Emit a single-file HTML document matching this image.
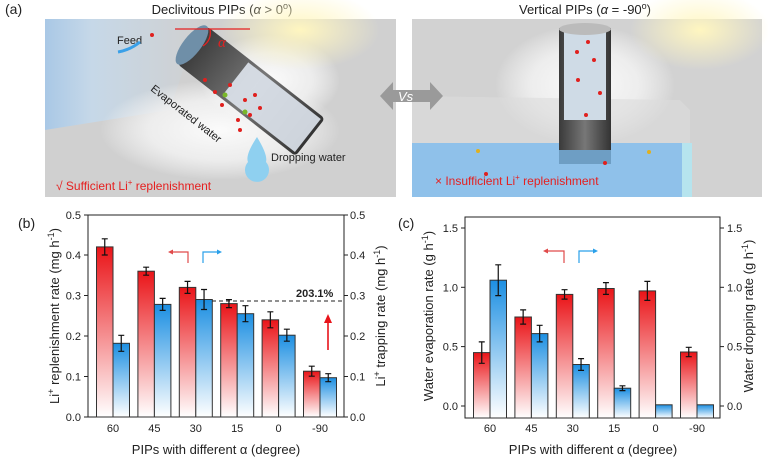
<!DOCTYPE html>
<html><head><meta charset="utf-8"><style>
html,body{margin:0;padding:0;background:#fff;}
svg{display:block;font-family:"Liberation Sans",Arial,sans-serif;}
</style></head><body>
<svg width="768" height="464" viewBox="0 0 768 464" xmlns="http://www.w3.org/2000/svg">
<defs>
<linearGradient id="rg" x1="0" y1="0" x2="0" y2="1"><stop offset="0" stop-color="#ea1418"/><stop offset="1" stop-color="#fff"/></linearGradient>
<linearGradient id="bg" x1="0" y1="0" x2="0" y2="1"><stop offset="0" stop-color="#1c8fe2"/><stop offset="1" stop-color="#fff"/></linearGradient>
<linearGradient id="lbg" x1="0" y1="0" x2="1" y2="0"><stop offset="0" stop-color="#a9c8e6"/><stop offset="0.3" stop-color="#c6d8e8"/><stop offset="1" stop-color="#d0d0d0"/></linearGradient>
<radialGradient id="sun" cx="0.5" cy="0.5" r="0.5"><stop offset="0" stop-color="#fff6c0"/><stop offset="1" stop-color="#fff6c0" stop-opacity="0"/></radialGradient>
<radialGradient id="mist" cx="0.5" cy="0.5" r="0.5"><stop offset="0" stop-color="#fbfbfb"/><stop offset="0.6" stop-color="#f4f4f4" stop-opacity="0.8"/><stop offset="1" stop-color="#fafafa" stop-opacity="0"/></radialGradient>
<linearGradient id="cyl" x1="0" y1="0" x2="1" y2="0"><stop offset="0" stop-color="#3a3a3a"/><stop offset="0.5" stop-color="#777"/><stop offset="1" stop-color="#333"/></linearGradient>
</defs>

<text x="5" y="14" font-size="14" fill="#222">(a)</text>
<text x="222" y="14" font-size="13" fill="#222" text-anchor="middle">Declivitous PIPs (<tspan font-style="italic">α</tspan> &gt; 0<tspan font-size="9" dy="-5">o</tspan><tspan dy="5">)</tspan></text>
<text x="585" y="14" font-size="13" fill="#222" text-anchor="middle">Vertical PIPs (<tspan font-style="italic">α</tspan> = -90<tspan font-size="9" dy="-5">o</tspan><tspan dy="5">)</tspan></text>

<rect x="45" y="19" width="351" height="178" fill="#d0d0d0"/>
<polygon points="45,19 200,19 170,110 45,130" fill="url(#lbg)"/>
<ellipse cx="220" cy="130" rx="120" ry="50" fill="url(#mist)"/>
<ellipse cx="270" cy="80" rx="70" ry="45" fill="url(#mist)"/>
<ellipse cx="300" cy="30" rx="80" ry="40" fill="url(#sun)"/>
<g transform="translate(192,45) rotate(38)">
<rect x="0" y="-24" width="150" height="48" fill="url(#cyl)" rx="4"/>
<rect x="55" y="-21" width="92" height="42" fill="#dfe6ee" opacity="0.9"/>
<ellipse cx="0" cy="0" rx="9" ry="24" fill="#6f8fa8"/>
</g>
<line x1="175" y1="29" x2="250" y2="29" stroke="#e52020" stroke-width="1.3"/>
<path d="M210,29 Q212,40 203,46" fill="none" stroke="#e52020" stroke-width="1.3"/>
<text x="218" y="47" font-size="15" fill="#e52020" font-style="italic" font-family="Liberation Serif,serif">α</text>
<text x="117" y="44" font-size="11" fill="#222">Feed</text>
<path d="M118,52 Q130,50 140,42" fill="none" stroke="#3aa0e8" stroke-width="3"/>
<text x="0" y="0" font-size="11" fill="#222" transform="translate(150,90) rotate(38)">Evaporated water</text>
<path d="M257,137 Q245,155 248,162 A12,12 0 1 0 266,162 Q268,155 257,137Z" fill="#8fd0f0"/>
<text x="271" y="161" font-size="11" fill="#222">Dropping water</text>
<text x="56" y="190" font-size="12" fill="#e52020">√ Sufficient Li<tspan font-size="8" dy="-5">+</tspan><tspan dy="5"> replenishment</tspan></text>
<g fill="#e0201e"><circle cx="205" cy="80" r="2"/><circle cx="230" cy="85" r="2"/><circle cx="245" cy="100" r="2"/><circle cx="250" cy="115" r="2"/><circle cx="222" cy="105" r="2"/><circle cx="260" cy="108" r="2"/><circle cx="238" cy="120" r="2"/><circle cx="152" cy="35" r="2"/><circle cx="215" cy="92" r="2"/><circle cx="255" cy="95" r="2"/><circle cx="240" cy="130" r="2"/></g>
<g fill="#7ab82a"><circle cx="225" cy="95" r="2.5"/><circle cx="245" cy="112" r="2.5"/></g>

<rect x="412" y="19" width="350" height="178" fill="#d2d2d2"/>
<ellipse cx="585" cy="85" rx="90" ry="60" fill="url(#mist)"/>
<ellipse cx="700" cy="30" rx="70" ry="40" fill="url(#sun)"/>
<polygon points="412,96 680,100 690,110 690,143 412,143" fill="#dcdcdc" opacity="0.6"/>
<rect x="412" y="143" width="270" height="54" fill="#8fc1ea"/>
<rect x="682" y="143" width="10" height="54" fill="#b6e4ee"/>
<rect x="559" y="28" width="52" height="132" fill="url(#cyl)"/>
<rect x="564" y="32" width="42" height="88" fill="#cfdbe6"/>
<rect x="559" y="150" width="52" height="14" fill="#6e9ec4"/>
<ellipse cx="585" cy="29" rx="26" ry="6" fill="#bbb"/>
<g fill="#e0201e"><circle cx="588" cy="42" r="2"/><circle cx="577" cy="52" r="2"/><circle cx="594" cy="60" r="2"/><circle cx="578" cy="80" r="2"/><circle cx="600" cy="93" r="2"/><circle cx="586" cy="115" r="2"/><circle cx="486" cy="174" r="2"/><circle cx="605" cy="163" r="2"/></g>
<g fill="#e0b020"><circle cx="478" cy="151" r="2"/><circle cx="649" cy="152" r="2"/></g>
<text x="435" y="185" font-size="12" fill="#e52020">× Insufficient Li<tspan font-size="8" dy="-5">+</tspan><tspan dy="5"> replenishment</tspan></text>
<polygon points="380,96 393,82 393,90 430,90 430,82 443,96 430,110 430,102 393,102 393,110" fill="#9a9a9a"/>
<text x="398" y="101" font-size="13" fill="#fff" font-style="italic">Vs</text>

<!-- (b) chart -->
<text x="18" y="228" font-size="14" fill="#222">(b)</text>
<g font-size="11" fill="#222">
<rect x="88" y="215" width="256" height="202" fill="none" stroke="#222" stroke-width="1"/>
<g stroke="#222"><line x1="84" y1="417" x2="88" y2="417"/><line x1="84" y1="376.5" x2="88" y2="376.5"/><line x1="84" y1="336" x2="88" y2="336"/><line x1="84" y1="295.5" x2="88" y2="295.5"/><line x1="84" y1="255" x2="88" y2="255"/><line x1="84" y1="215" x2="88" y2="215"/>
<line x1="344" y1="417" x2="348" y2="417"/><line x1="344" y1="376.5" x2="348" y2="376.5"/><line x1="344" y1="336" x2="348" y2="336"/><line x1="344" y1="295.5" x2="348" y2="295.5"/><line x1="344" y1="255" x2="348" y2="255"/><line x1="344" y1="215" x2="348" y2="215"/></g>
<g text-anchor="end"><text x="81" y="421">0.0</text><text x="81" y="380.5">0.1</text><text x="81" y="340">0.2</text><text x="81" y="299.5">0.3</text><text x="81" y="259">0.4</text><text x="81" y="219">0.5</text></g>
<g><text x="350" y="421">0.0</text><text x="350" y="380.5">0.1</text><text x="350" y="340">0.2</text><text x="350" y="299.5">0.3</text><text x="350" y="259">0.4</text><text x="350" y="219">0.5</text></g>
<g text-anchor="middle"><text x="113" y="432">60</text><text x="154.4" y="432">45</text><text x="195.8" y="432">30</text><text x="237.2" y="432">15</text><text x="278.6" y="432">0</text><text x="320" y="432">-90</text></g>
<text x="216" y="454" font-size="13" text-anchor="middle">PIPs with different α (degree)</text>
<text transform="translate(59,316) rotate(-90)" font-size="13" text-anchor="middle">Li<tspan font-size="9" dy="-5">+</tspan><tspan dy="5"> replenishment rate (mg h</tspan><tspan font-size="9" dy="-5">-1</tspan><tspan dy="5">)</tspan></text>
<text transform="translate(385,316) rotate(-90)" font-size="13" text-anchor="middle">Li<tspan font-size="9" dy="-5">+</tspan><tspan dy="5"> trapping rate (mg h</tspan><tspan font-size="9" dy="-5">-1</tspan><tspan dy="5">)</tspan></text>
</g>
<g stroke="#333" stroke-width="1">
<rect x="96.5" y="246.9" width="16.5" height="170.1" fill="url(#rg)"/><rect x="113" y="343.3" width="16.5" height="73.7" fill="url(#bg)"/>
<rect x="137.9" y="271.2" width="16.5" height="145.8" fill="url(#rg)"/><rect x="154.4" y="304.4" width="16.5" height="112.6" fill="url(#bg)"/>
<rect x="179.3" y="287.4" width="16.5" height="129.6" fill="url(#rg)"/><rect x="195.8" y="299.5" width="16.5" height="117.5" fill="url(#bg)"/>
<rect x="220.7" y="303.6" width="16.5" height="113.4" fill="url(#rg)"/><rect x="237.2" y="313.7" width="16.5" height="103.3" fill="url(#bg)"/>
<rect x="262.1" y="319.8" width="16.5" height="97.2" fill="url(#rg)"/><rect x="278.6" y="335.2" width="16.5" height="81.8" fill="url(#bg)"/>
<rect x="303.5" y="371.2" width="16.5" height="45.8" fill="url(#rg)"/><rect x="320" y="377.7" width="16.5" height="39.3" fill="url(#bg)"/>
</g>
<g stroke="#111" stroke-width="1.2" fill="none">
<path d="M104.75,238.8v16.2M101.75,238.8h6M101.75,255h6"/><path d="M121.25,335.3v16M118.25,335.3h6M118.25,351.3h6"/>
<path d="M146.15,267.2v8M143.15,267.2h6M143.15,275.2h6"/><path d="M162.65,298.4v12M159.65,298.4h6M159.65,310.4h6"/>
<path d="M187.55,281.4v12M184.55,281.4h6M184.55,293.4h6"/><path d="M204.05,289.5v20M201.05,289.5h6M201.05,309.5h6"/>
<path d="M228.95,299.6v8M225.95,299.6h6M225.95,307.6h6"/><path d="M245.45,305.7v16M242.45,305.7h6M242.45,321.7h6"/>
<path d="M270.35,311.8v16M267.35,311.8h6M267.35,327.8h6"/><path d="M286.85,329.2v12M283.85,329.2h6M283.85,341.2h6"/>
<path d="M311.75,366.2v10M308.75,366.2h6M308.75,376.2h6"/><path d="M328.25,373.7v8M325.25,373.7h6M325.25,381.7h6"/>
</g>
<line x1="212" y1="301" x2="344" y2="301" stroke="#222" stroke-dasharray="4,3"/>
<text x="296" y="297" font-size="11" font-weight="bold" fill="#222">203.1%</text>
<line x1="328" y1="350" x2="328" y2="322" stroke="#e8141a" stroke-width="1.6"/><polygon points="324,323 332,323 328,314" fill="#e8141a"/>
<path d="M188,263V252H172" fill="none" stroke="#e04a4a" stroke-width="1.2"/><polygon points="173,249.5 173,254.5 168,252" fill="#e04a4a"/>
<path d="M203,263V252H218" fill="none" stroke="#2aa0ea" stroke-width="1.2"/><polygon points="217,249.5 217,254.5 222,252" fill="#2aa0ea"/>

<!-- (c) chart -->
<text x="398" y="228" font-size="14" fill="#222">(c)</text>
<g font-size="11" fill="#222">
<rect x="465" y="217" width="255" height="201" fill="none" stroke="#222" stroke-width="1"/>
<g stroke="#222"><line x1="461" y1="406" x2="465" y2="406"/><line x1="461" y1="346.6" x2="465" y2="346.6"/><line x1="461" y1="287.3" x2="465" y2="287.3"/><line x1="461" y1="228" x2="465" y2="228"/>
<line x1="720" y1="406" x2="724" y2="406"/><line x1="720" y1="346.6" x2="724" y2="346.6"/><line x1="720" y1="287.3" x2="724" y2="287.3"/><line x1="720" y1="228" x2="724" y2="228"/></g>
<g text-anchor="end"><text x="458" y="410">0.0</text><text x="458" y="350.6">0.5</text><text x="458" y="291.3">1.0</text><text x="458" y="232">1.5</text></g>
<g><text x="727" y="410">0.0</text><text x="727" y="350.6">0.5</text><text x="727" y="291.3">1.0</text><text x="727" y="232">1.5</text></g>
<g text-anchor="middle"><text x="490" y="432">60</text><text x="531.4" y="432">45</text><text x="572.8" y="432">30</text><text x="614.2" y="432">15</text><text x="655.6" y="432">0</text><text x="697" y="432">-90</text></g>
<text x="593" y="454" font-size="13" text-anchor="middle">PIPs with different α (degree)</text>
<text transform="translate(433,316) rotate(-90)" font-size="13" text-anchor="middle">Water evaporation rate (g h<tspan font-size="9" dy="-5">-1</tspan><tspan dy="5">)</tspan></text>
<text transform="translate(753,316) rotate(-90)" font-size="13" text-anchor="middle">Water dropping rate (g h<tspan font-size="9" dy="-5">-1</tspan><tspan dy="5">)</tspan></text>
</g>
<g stroke="#333" stroke-width="1">
<rect x="473.5" y="352.6" width="16.5" height="65.4" fill="url(#rg)"/><rect x="490" y="280.2" width="16.5" height="137.8" fill="url(#bg)"/>
<rect x="514.9" y="317" width="16.5" height="101" fill="url(#rg)"/><rect x="531.4" y="333.6" width="16.5" height="84.4" fill="url(#bg)"/>
<rect x="556.3" y="294.4" width="16.5" height="123.6" fill="url(#rg)"/><rect x="572.8" y="364.5" width="16.5" height="53.5" fill="url(#bg)"/>
<rect x="597.7" y="288.5" width="16.5" height="129.5" fill="url(#rg)"/><rect x="614.2" y="388.2" width="16.5" height="29.8" fill="url(#bg)"/>
<rect x="639.1" y="290.9" width="16.5" height="127.1" fill="url(#rg)"/><rect x="655.6" y="404.8" width="16.5" height="13.2" fill="url(#bg)"/>
<rect x="680.5" y="352" width="16.5" height="66" fill="url(#rg)"/><rect x="697" y="404.8" width="16.5" height="13.2" fill="url(#bg)"/>
</g>
<g stroke="#111" stroke-width="1.2" fill="none">
<path d="M481.75,341.9v21.4M478.75,341.9h6M478.75,363.3h6"/><path d="M498.25,264.8v30.8M495.25,264.8h6M495.25,295.6h6"/>
<path d="M523.15,309.9v14.2M520.15,309.9h6M520.15,324.1h6"/><path d="M539.65,325.3v16.6M536.65,325.3h6M536.65,341.9h6"/>
<path d="M564.55,289.7v9.4M561.55,289.7h6M561.55,299.1h6"/><path d="M581.05,358.6v11.8M578.05,358.6h6M578.05,370.4h6"/>
<path d="M605.95,282.6v11.8M602.95,282.6h6M602.95,294.4h6"/><path d="M622.45,385.8v4.8M619.45,385.8h6M619.45,390.6h6"/>
<path d="M647.35,281.4v19M644.35,281.4h6M644.35,300.4h6"/>
<path d="M688.75,347.3v9.4M685.75,347.3h6M685.75,356.7h6"/>
</g>
<path d="M564,263V251H547" fill="none" stroke="#e04a4a" stroke-width="1.2"/><polygon points="548,248.5 548,253.5 543,251" fill="#e04a4a"/>
<path d="M579,263V251H594" fill="none" stroke="#2aa0ea" stroke-width="1.2"/><polygon points="593,248.5 593,253.5 598,251" fill="#2aa0ea"/>
</svg>
</body></html>
